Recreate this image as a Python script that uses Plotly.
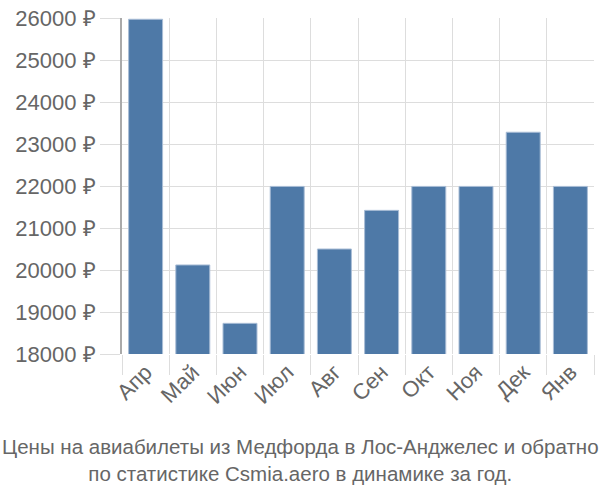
import plotly.graph_objects as go

months = ["Апр", "Май", "Июн", "Июл", "Авг", "Сен", "Окт", "Ноя", "Дек", "Янв"]
prices = [25970, 20120, 18730, 21990, 20500, 21420, 21990, 21990, 23280, 21990]
y_ticks = [18000, 19000, 20000, 21000, 22000, 23000, 24000, 25000, 26000]
y_tick_labels = [f"{v} ₽" for v in y_ticks]
title_lines = ["Цены на авиабилеты из Медфорда в Лос-Анджелес и обратно",
               "по статистике Csmia.aero в динамике за год."]

fig = go.Figure(go.Bar(
    x=months, y=prices,
    marker=dict(color="#4e79a7", line=dict(color="#a9bdd6", width=1)),
    width=0.72,
))

font_family = "Liberation Sans, Arial, sans-serif"
fig.update_layout(
    width=600, height=500,
    margin=dict(l=122, r=6, t=14, b=146),
    plot_bgcolor="white", paper_bgcolor="white",
    showlegend=False,
    font=dict(family=font_family, color="#666666"),
    annotations=[dict(
        text="<br>".join(title_lines),
        xref="paper", yref="paper", x=(300 - 122) / 472, y=0,
        yshift=-79, xanchor="center", yanchor="top",
        showarrow=False, font=dict(family=font_family, size=20.5, color="#666666"),
        align="center",
    )],
)
fig.update_xaxes(
    type="category", tickson="boundaries", showgrid=True, gridcolor="#dddddd", gridwidth=1,
    ticks="outside", ticklen=20, tickcolor="#dddddd", tickwidth=1,
    tickangle=-45, tickfont=dict(size=22, color="#666666"),
    showline=False, mirror=False,
)
fig.update_yaxes(
    range=[18000, 26000], tickvals=y_ticks, ticktext=y_tick_labels,
    showgrid=True, gridcolor="#dddddd", gridwidth=1,
    ticks="outside", ticklen=20, tickcolor="#dddddd",
    tickfont=dict(size=22, color="#666666"),
    showline=True, linecolor="#aaaaaa", linewidth=2,
    zeroline=False,
)

fig.write_html("out.html")
